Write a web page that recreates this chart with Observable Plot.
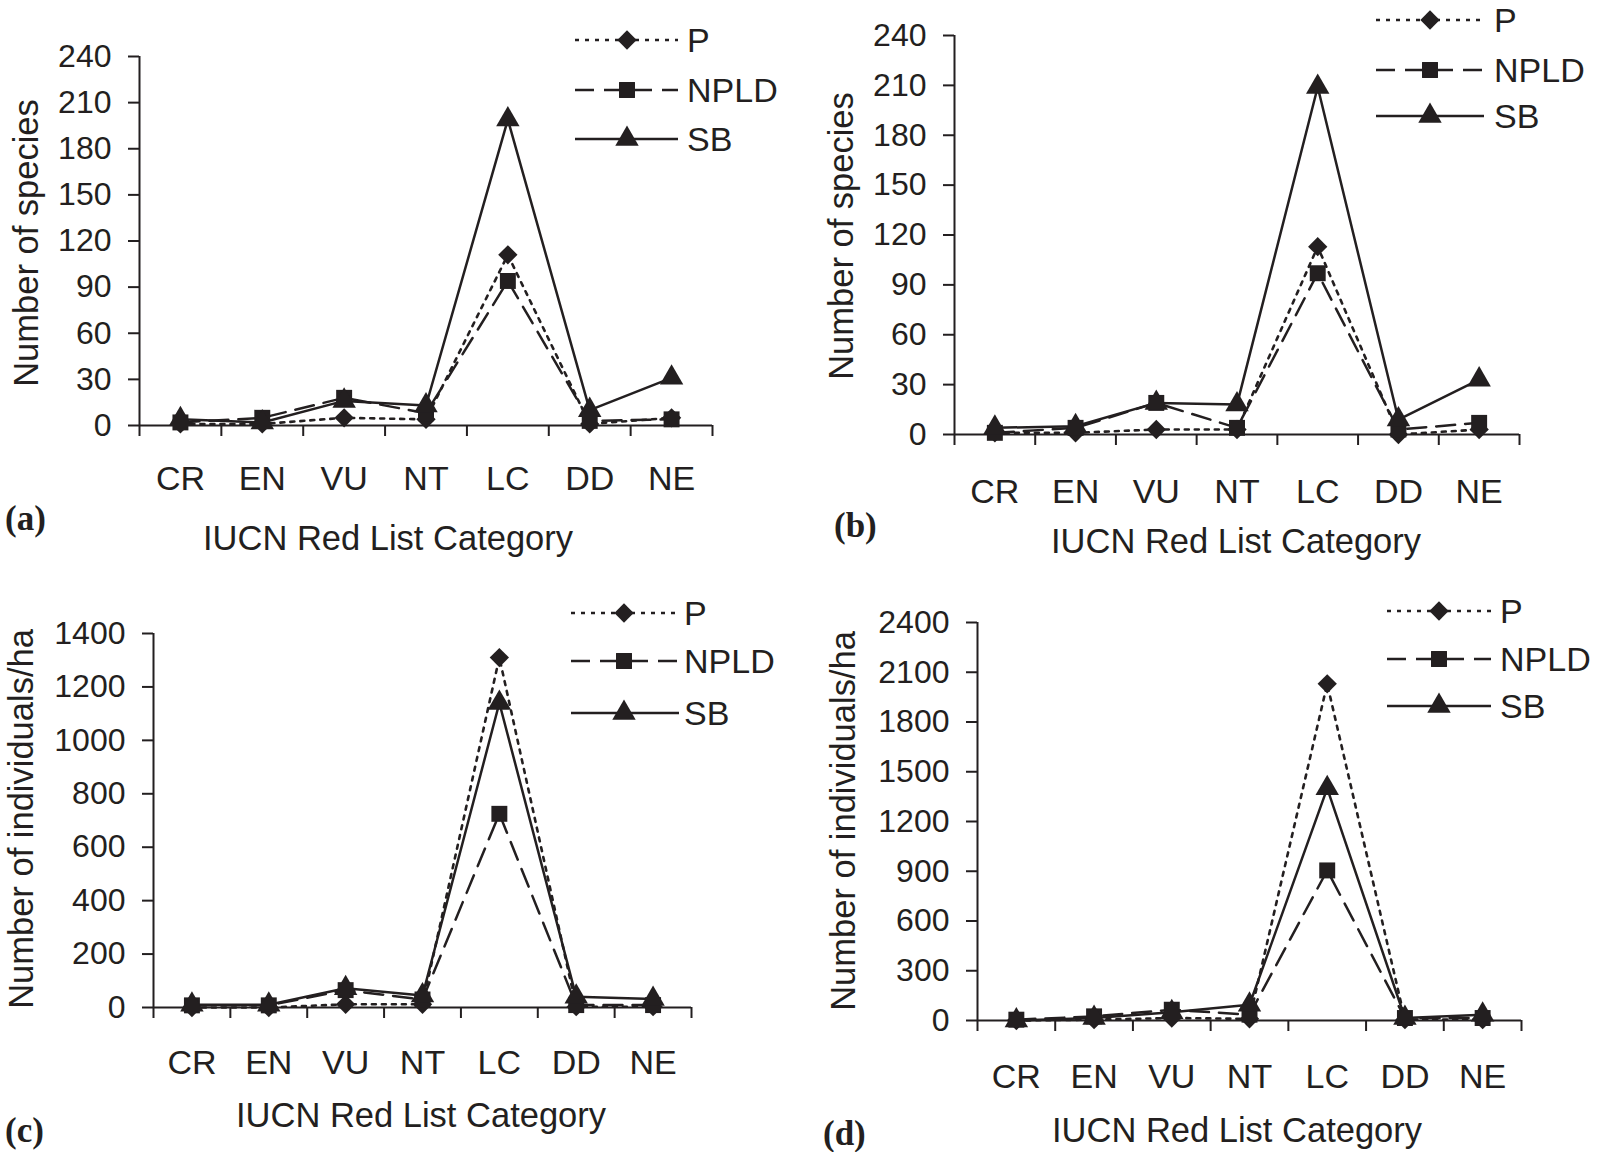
<!DOCTYPE html>
<html>
<head>
<meta charset="utf-8">
<script src="https://cdn.jsdelivr.net/npm/d3@7"></script>
<script src="https://cdn.jsdelivr.net/npm/@observablehq/plot@0.6"></script>
<style>
html, body { margin: 0; padding: 0; background: #fff; }
#root { position: relative; width: 1600px; height: 1152px; overflow: hidden; background: #fff; }
.panel { position: absolute; }
#overlay { position: absolute; left: 0; top: 0; pointer-events: none; }
</style>
</head>
<body>
<div id="root"></div>
<script>
// ---- data ----
const categories = ["CR", "EN", "VU", "NT", "LC", "DD", "NE"];
const seriesNames = ["P", "NPLD", "SB"];

// (a) Number of species
const aP    = [1, 1, 5, 4, 111, 1, 5];
const aNPLD = [2, 5, 18, 8, 94, 3, 4];
const aSB   = [4, 2, 16, 13, 199, 10, 31];
const aTicks = [0, 30, 60, 90, 120, 150, 180, 210, 240];

// (b) Number of species
const bP    = [1, 1, 3, 3, 113, 0, 3];
const bNPLD = [1, 4, 19, 4, 97, 3, 7];
const bSB   = [4, 5, 19, 18, 209, 9, 33];
const bTicks = [0, 30, 60, 90, 120, 150, 180, 210, 240];

// (c) Number of individuals/ha
const cP    = [0, 0, 12, 12, 1310, 3, 3];
const cNPLD = [8, 8, 65, 30, 725, 9, 9];
const cSB   = [10, 10, 72, 45, 1140, 40, 32];
const cTicks = [0, 200, 400, 600, 800, 1000, 1200, 1400];

// (d) Number of individuals/ha
const dP    = [0, 5, 15, 10, 2030, 5, 5];
const dNPLD = [5, 25, 65, 35, 905, 15, 15];
const dSB   = [0, 15, 50, 95, 1400, 15, 35];
const dTicks = [0, 300, 600, 900, 1200, 1500, 1800, 2100, 2400];

const yTitles = ["Number of species", "Number of species", "Number of individuals/ha", "Number of individuals/ha"];
const xTitle = "IUCN Red List Category";
const panelLetters = ["(a)", "(b)", "(c)", "(d)"];

// ---- styles / layout ----
const ink = "#231f20";
const FONT = "'Liberation Sans', Arial, Helvetica, sans-serif";
const seriesStyle = {
  P:    {dash: "4,6",   width: 2.6, symbol: "diamond2", r: 8.7, d3sym: d3.symbolDiamond2},
  NPLD: {dash: "19,10", width: 2.5, symbol: "square",   r: 9.0, d3sym: d3.symbolSquare},
  SB:   {dash: null,    width: 2.5, symbol: "triangle", r: 8.7, d3sym: d3.symbolTriangle}
};

const panels = [
  {series: [aP, aNPLD, aSB], ticks: aTicks, left: 0,   top: 0,   width: 800, height: 560,
   axisX: 139, axisRight: 712, yTop: 56,  yZero: 425, labOff: 64,
   yTitle: {x: 38, y: 243}, xTitle: {x: 388, y: 550}, letter: {x: 5, y: 530},
   legend: {x0: 575, x1: 678, xm: 627, rows: [40, 90, 139], tx: 687}},
  {series: [bP, bNPLD, bSB], ticks: bTicks, left: 800, top: 0,   width: 800, height: 560,
   axisX: 954, axisRight: 1519, yTop: 35, yZero: 434, labOff: 68,
   yTitle: {x: 853, y: 236}, xTitle: {x: 1236, y: 553}, letter: {x: 834, y: 537},
   legend: {x0: 1376, x1: 1484, xm: 1430, rows: [20, 70, 116], tx: 1494}},
  {series: [cP, cNPLD, cSB], ticks: cTicks, left: 0,   top: 576, width: 800, height: 576,
   axisX: 153, axisRight: 691, yTop: 633, yZero: 1007, labOff: 66,
   yTitle: {x: 33, y: 819}, xTitle: {x: 421, y: 1127}, letter: {x: 5, y: 1142},
   legend: {x0: 571, x1: 679, xm: 624, rows: [613, 661, 713], tx: 684}},
  {series: [dP, dNPLD, dSB], ticks: dTicks, left: 800, top: 576, width: 800, height: 576,
   axisX: 977, axisRight: 1521, yTop: 622, yZero: 1020, labOff: 67,
   yTitle: {x: 855, y: 821}, xTitle: {x: 1237, y: 1142}, letter: {x: 823, y: 1145},
   legend: {x0: 1387, x1: 1491, xm: 1439, rows: [611, 659, 706], tx: 1500}}
];

const root = document.getElementById("root");

function makePanel(p) {
  const rows = [];
  p.series.forEach((vals, s) => vals.forEach((v, i) => rows.push({cat: categories[i], i, series: seriesNames[s], v})));
  const marginLeft = p.axisX - p.left;
  const marginRight = p.left + p.width - p.axisRight;
  const marginTop = p.yTop - p.top;
  const marginBottom = p.top + p.height - p.yZero;
  const catFont = 34;
  const marks = [
    Plot.axisY({ticks: p.ticks, tickSize: 11, tickPadding: 17, tickFormat: d => String(d), label: null,
                color: ink, strokeWidth: 2, fontSize: 32, fontFamily: FONT}),
    Plot.axisX({ticks: d3.range(categories.length + 1), tickSize: 11, tickFormat: () => "", label: null,
                color: ink, strokeWidth: 2}),
    Plot.axisX({ticks: categories.map((c, i) => i + 0.5), tickSize: 0, tickPadding: p.labOff - 0.71 * catFont,
                tickFormat: d => categories[Math.round(d - 0.5)], label: null,
                color: ink, fontSize: catFont, fontFamily: FONT}),
    Plot.ruleY([0], {stroke: ink, strokeWidth: 2}),
    Plot.ruleX([0], {stroke: ink, strokeWidth: 2})
  ];
  seriesNames.forEach(name => {
    const st = seriesStyle[name];
    marks.push(Plot.line(rows.filter(r => r.series === name), {
      x: r => r.i + 0.5, y: "v", stroke: ink, strokeWidth: st.width,
      strokeDasharray: st.dash || undefined, strokeLinejoin: "miter"
    }));
  });
  seriesNames.forEach(name => {
    const st = seriesStyle[name];
    marks.push(Plot.dot(rows.filter(r => r.series === name), {
      x: r => r.i + 0.5, y: "v", symbol: () => st.symbol, r: st.r, fill: ink, stroke: "none"
    }));
  });
  const chart = Plot.plot({
    width: p.width, height: p.height,
    marginLeft, marginRight, marginTop, marginBottom,
    x: {type: "linear", domain: [0, categories.length]},
    y: {type: "linear", domain: [0, p.ticks[p.ticks.length - 1]]},
    symbol: {type: "identity"},
    style: {fontFamily: FONT, fontSize: "32px", color: ink, background: "transparent", overflow: "visible"},
    marks
  });
  chart.classList.add("panel");
  chart.style.left = p.left + "px";
  chart.style.top = p.top + "px";
  chart.style.position = "absolute";
  root.appendChild(chart);
}

panels.forEach(makePanel);

// ---- overlay: titles, legends, panel letters ----
const svg = d3.select(root).append("svg")
  .attr("id", "overlay").attr("width", 1600).attr("height", 1152)
  .style("font-family", FONT).style("fill", ink);

panels.forEach((p, k) => {
  svg.append("text")
    .attr("transform", `translate(${p.yTitle.x},${p.yTitle.y}) rotate(-90)`)
    .attr("text-anchor", "middle").attr("font-size", 34.5).attr("fill", ink)
    .text(yTitles[k]);
  svg.append("text")
    .attr("x", p.xTitle.x).attr("y", p.xTitle.y)
    .attr("text-anchor", "middle").attr("font-size", 34.5).attr("fill", ink)
    .text(xTitle);
  svg.append("text")
    .attr("x", p.letter.x).attr("y", p.letter.y)
    .attr("font-family", "'Liberation Serif', 'Times New Roman', serif")
    .attr("font-weight", "bold").attr("font-size", 35).attr("fill", ink)
    .text(panelLetters[k]);
  const L = p.legend;
  seriesNames.forEach((name, s) => {
    const st = seriesStyle[name];
    const y = L.rows[s];
    svg.append("line")
      .attr("x1", L.x0).attr("x2", L.x1).attr("y1", y).attr("y2", y)
      .attr("stroke", ink).attr("stroke-width", st.width)
      .attr("stroke-dasharray", st.dash || null);
    svg.append("path")
      .attr("transform", `translate(${L.xm},${y})`)
      .attr("d", d3.symbol(st.d3sym, Math.PI * st.r * st.r)())
      .attr("fill", ink);
    svg.append("text")
      .attr("x", L.tx).attr("y", y).attr("dy", "0.35em")
      .attr("font-size", 34).attr("fill", ink)
      .text(name);
  });
});
</script>
</body>
</html>
